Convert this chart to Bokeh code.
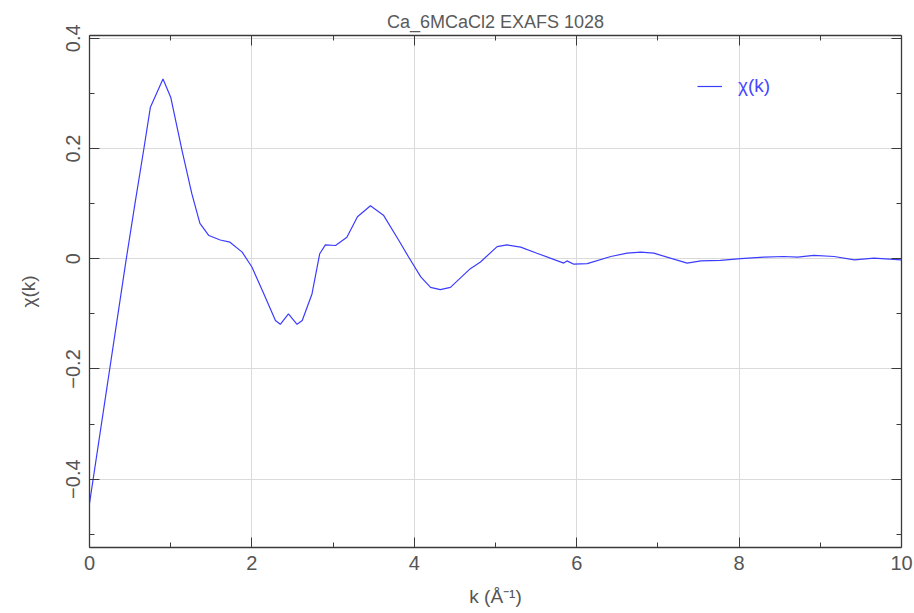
from bokeh.plotting import figure
from bokeh.models import LinearAxis, FixedTicker, Legend, LegendItem, Range1d
from bokeh.embed import file_html
from bokeh.resources import INLINE

# chi(k)
k = [0.00, 0.45, 0.56, 0.67, 0.75, 0.905, 1.00, 1.14, 1.26, 1.36, 1.47, 1.61,
     1.73, 1.88, 2.00, 2.145, 2.29, 2.35, 2.45, 2.556, 2.62, 2.74, 2.835, 2.905,
     3.03, 3.17, 3.30, 3.46, 3.62, 3.81, 3.93, 4.08, 4.20, 4.32, 4.445, 4.69,
     4.815, 5.02, 5.14, 5.31, 5.51, 5.84, 5.88, 5.965, 6.13, 6.42, 6.62, 6.79,
     6.95, 7.36, 7.53, 7.77, 8.02, 8.31, 8.55, 8.72, 8.92, 9.17, 9.42, 9.66, 10.0]
chi = [-0.444, -0.003, 0.100, 0.200, 0.275, 0.326, 0.293, 0.196, 0.118, 0.064,
       0.042, 0.034, 0.030, 0.012, -0.015, -0.063, -0.112, -0.119, -0.100, -0.119,
       -0.112, -0.064, 0.009, 0.025, 0.024, 0.039, 0.076, 0.096, 0.079, 0.033,
       0.003, -0.033, -0.052, -0.056, -0.052, -0.018, -0.006, 0.022, 0.025, 0.021,
       0.010, -0.008, -0.004, -0.010, -0.009, 0.004, 0.010, 0.012, 0.010, -0.008,
       -0.004, -0.003, 0.000, 0.003, 0.004, 0.003, 0.006, 0.004, -0.002, 0.001, -0.002]

x_ticks = [0, 2, 4, 6, 8, 10]
x_minor = [1, 3, 5, 7, 9]
y_ticks = [-0.4, -0.2, 0, 0.2, 0.4]
y_minor = [-0.5, -0.3, -0.1, 0.1, 0.3]
y_tick_labels = ["\u22120.4", "\u22120.2", "0", "0.2", "0.4"]

title_text = "Ca_6MCaCl2 EXAFS 1028"
x_label = "k (\u00c5\u207b\u00b9)"
y_label = "\u03c7(k)"
series_name = "\u03c7(k)"

FONT = "Liberation Sans"
TXT = "#555555"
AX = "#3a3a3a"
BLUE = "#3c3cff"

p = figure(width=914, height=613, output_backend="svg", toolbar_location=None,
           x_range=Range1d(0, 10), y_range=Range1d(-0.524, 0.405),
           min_border_left=89, min_border_right=13, min_border_top=35,
           min_border_bottom=66, x_axis_location=None, y_axis_location=None)
p.outline_line_color = None

p.title.text = title_text
p.title.align = "center"
p.title.text_font = FONT
p.title.text_font_size = "18px"
p.title.text_font_style = "normal"
p.title.text_color = "#5a5a5a"
p.title.standoff = 7

def style_axis(ax, ticks, minor, show_labels):
    ax.ticker = FixedTicker(ticks=ticks, minor_ticks=minor)
    ax.major_tick_in = 10
    ax.major_tick_out = 0
    ax.minor_tick_in = 5
    ax.minor_tick_out = 0
    ax.axis_line_color = AX
    ax.axis_line_width = 1.3
    ax.major_tick_line_color = AX
    ax.minor_tick_line_color = AX
    ax.major_label_text_font = FONT
    ax.major_label_text_color = TXT
    ax.axis_label_text_font = FONT
    ax.axis_label_text_color = TXT
    ax.axis_label_text_font_style = "normal"
    if show_labels:
        ax.major_label_text_font_size = "20px"
        ax.axis_label_text_font_size = "19px"
    else:
        ax.major_label_overrides = {t: "" for t in ticks}
        ax.major_label_text_font_size = "1px"
        ax.major_label_standoff = 0
        ax.axis_label = None

xb = LinearAxis(axis_label=x_label)
style_axis(xb, x_ticks, x_minor, True)
xb.major_label_standoff = 8
xb.axis_label_standoff = 13
p.add_layout(xb, "below")

yl = LinearAxis(axis_label=y_label)
style_axis(yl, y_ticks, y_minor, True)
yl.major_label_orientation = "vertical"
yl.major_label_overrides = {t: s for t, s in zip(y_ticks, y_tick_labels)}
yl.major_label_standoff = 9
yl.axis_label_standoff = 25
p.add_layout(yl, "left")

xt = LinearAxis()
style_axis(xt, x_ticks, x_minor, False)
p.add_layout(xt, "above")

yr = LinearAxis()
style_axis(yr, y_ticks, y_minor, False)
p.add_layout(yr, "right")

p.xgrid.ticker = FixedTicker(ticks=x_ticks)
p.ygrid.ticker = FixedTicker(ticks=y_ticks)
p.xgrid.grid_line_color = "#dadada"
p.ygrid.grid_line_color = "#dadada"

r = p.line(k, chi, line_color=BLUE, line_width=1.2)

legend = Legend(items=[LegendItem(label=series_name, renderers=[r])],
                location=(608, 450))
legend.border_line_alpha = 0
legend.background_fill_alpha = 0
legend.padding = 0
legend.margin = 0
legend.glyph_width = 25
legend.label_standoff = 16
legend.label_text_font = FONT
legend.label_text_font_size = "19px"
legend.label_text_color = "#4646ff"
p.add_layout(legend)

open("out.html", "w").write(file_html(p, INLINE))
